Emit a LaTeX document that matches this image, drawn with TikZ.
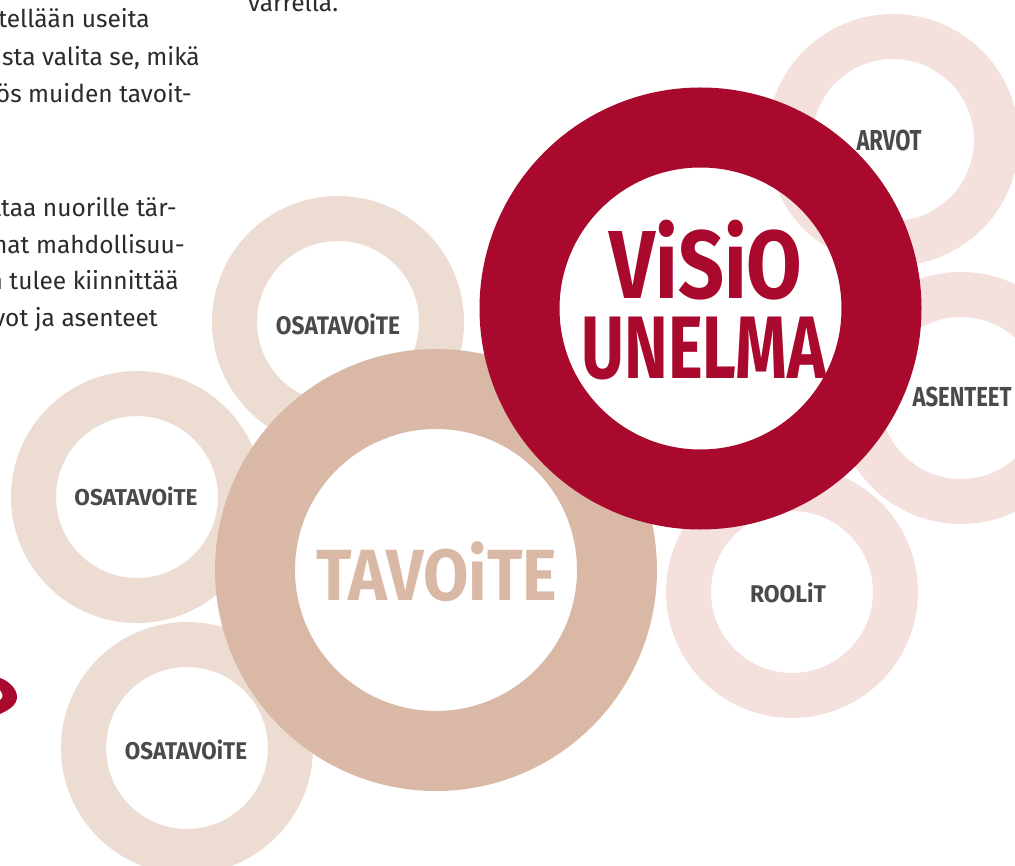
\documentclass[tikz,border=0pt]{standalone}
\usepackage{fontspec}
\setmainfont{Fira Sans}
\newfontfamily\brush{Fira Sans}
\usepackage{graphicx}
\definecolor{visred}{HTML}{A8092D}
\definecolor{tavring}{HTML}{D9B9A5}
\definecolor{osaring}{HTML}{EDDCD2}
\definecolor{pinkring}{HTML}{F4E1DD}
\definecolor{labgrey}{HTML}{4A4A4C}
\definecolor{bodytext}{HTML}{2B2B2B}
\newcommand\fitbox[3]{\resizebox*{#1}{#2}{\brush\bfseries #3}}
\begin{document}
\begin{tikzpicture}[x=1pt,y=-1pt,
  smallring/.style={circle, draw=#1, line width=45pt, minimum size=207pt, inner sep=0pt},
  bigring/.style={circle, draw=#1, line width=80pt, minimum size=362pt, inner sep=0pt},
  lab/.style={inner sep=0pt, text=labgrey},
  body/.style={inner sep=0pt, text=bodytext, font=\fontsize{24.5}{30}\selectfont}]
\useasboundingbox (0,0) rectangle (1015,866);
\clip (0,0) rectangle (1015,866);
\fill[white] (0,0) rectangle (1015,866);

% body text
\node[body, anchor=base west] (t0) at (248,12) {varrella.};
\node[body, anchor=base east] (t1) at (150,28) {tellään useita};
\node[body, anchor=base east] (t2) at (200,65.5) {sta valita se, mikä};
\node[body, anchor=base east] (t3) at (192,103) {ös muiden tavoit-};
\node[body, anchor=base east] (t4) at (177,217) {ttaa nuorille tär-};
\node[body, anchor=base east] (t5) at (185,253.5) {hat mahdollisuu-};
\node[body, anchor=base east] (t6) at (179,290) {n tulee kiinnittää};
\node[body, anchor=base east] (t7) at (158,326.5) {vot ja asenteet};

% red scribble at left edge
\fill[visred] (0,678) .. controls (9,681) and (17,689) .. (17,697)
  .. controls (17,705) and (9,710) .. (0,714) -- (0,700)
  .. controls (3,698) and (4,695) .. (0,690) -- cycle;

% pale rings
\node[smallring=pinkring] (rArvot) at (893,140) {};
\node[smallring=pinkring] (rAsenteet) at (961,398) {};
\node[smallring=pinkring] (rRoolit) at (792,592) {};
\node[smallring=osaring] (rOsa1) at (338,322) {};
\node[smallring=osaring] (rOsa2) at (137,497) {};
\node[smallring=osaring] (rOsa3) at (187,748) {};

% big rings
\node[bigring=tavring] (rTavoite) at (436,570) {};
\node[bigring=visred] (rVisio) at (700.5,308.5) {};

% labels
\node[lab] (lArvot) at (889,140) {\fitbox{65pt}{21pt}{ARVOT}};
\node[lab] (lAsenteet) at (962,397) {\fitbox{99pt}{20pt}{ASENTEET}};
\node[lab] (lRoolit) at (788,593) {\fitbox{76pt}{20pt}{ROOLiT}};
\node[lab] (lOsa1) at (338,324) {\fitbox{124pt}{21pt}{OSATAVOiTE}};
\node[lab] (lOsa2) at (136,496) {\fitbox{123pt}{19pt}{OSATAVOiTE}};
\node[lab] (lOsa3) at (186,750) {\fitbox{122pt}{20pt}{OSATAVOiTE}};
\node[inner sep=0pt, text=tavring] (lTavoite) at (437,572) {\fitbox{241pt}{60pt}{TAVOiTE}};
\node[inner sep=0pt, text=visred] (lVisio) at (706,260) {\fitbox{193pt}{80pt}{ViSiO}};
\node[inner sep=0pt, text=visred] (lUnelma) at (704,348.5) {\fitbox{245pt}{63pt}{UNELMA}};
\end{tikzpicture}
\end{document}
